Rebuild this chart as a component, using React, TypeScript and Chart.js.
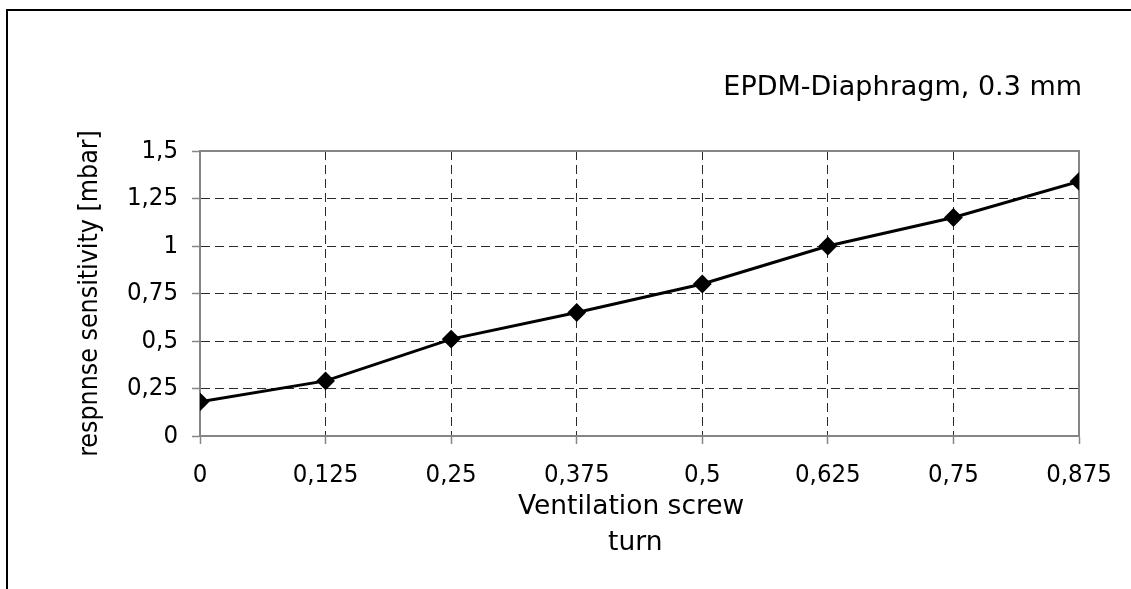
import React, { useEffect, useRef } from "react";
import { Chart, registerables } from "chart.js";

Chart.register(...registerables);

const turns = [0, 0.125, 0.25, 0.375, 0.5, 0.625, 0.75, 0.875];
const sensitivity = [0.18, 0.29, 0.51, 0.65, 0.8, 1.0, 1.15, 1.34];
const yMin = 0;
const yMax = 1.5;
const yStep = 0.25;
const xStep = 0.125;
const chartTitle = "EPDM-Diaphragm, 0.3 mm";
const xTitle = ["Ventilation screw\u00a0\u00a0", "turn\u00a0"];
const yTitle = "respnnse sensitivity [mbar]";

const W = 1131;
const H = 589;
const FONT = "'DejaVu Sans', sans-serif";
const FONT_C = "'DejaVu Sans Condensed', 'DejaVu Sans', sans-serif";
const fmt = (v: number) => String(Math.round(v * 1000) / 1000).replace(".", ",");

const decor = {
  id: "decor",
  beforeDatasetsDraw(chart: any) {
    const { ctx, chartArea } = chart;
    ctx.save();
    ctx.strokeStyle = "#858585";
    ctx.lineWidth = 2;
    ctx.strokeRect(chartArea.left, chartArea.top, chartArea.right - chartArea.left, chartArea.bottom - chartArea.top);
    ctx.restore();
  },
  afterDraw(chart: any) {
    const { ctx } = chart;
    ctx.save();
    ctx.strokeStyle = "#000";
    ctx.lineWidth = 2;
    ctx.strokeRect(7, 10, 3000, 3000);
    ctx.fillStyle = "#000";
    ctx.font = `27px ${FONT}`;
    ctx.textAlign = "right";
    ctx.textBaseline = "alphabetic";
    ctx.fillText(chartTitle, 1082, 95);
    ctx.restore();
  },
};

export default function App() {
  const ref = useRef<HTMLCanvasElement | null>(null);
  useEffect(() => {
    if (!ref.current) return;
    const chart = new Chart(ref.current, {
      type: "line",
      data: {
        datasets: [
          {
            data: turns.map((t, i) => ({ x: t, y: sensitivity[i] })),
            borderColor: "#000",
            borderWidth: 3,
            backgroundColor: "#000",
            pointStyle: "rectRot",
            pointRadius: 8,
            pointBorderWidth: 2,
            pointBackgroundColor: "#000",
            pointBorderColor: "#000",
            tension: 0,
          },
        ],
      },
      plugins: [decor],
      options: {
        animation: false,
        responsive: false,
        devicePixelRatio: 1,
        layout: { padding: { left: 0, right: 52, top: 151, bottom: 0 } },
        plugins: { legend: { display: false }, tooltip: { enabled: false }, title: { display: false } },
        scales: {
          x: {
            type: "linear",
            min: turns[0],
            max: turns[turns.length - 1],
            afterFit(scale: any) {
              scale.height = H - 436;
            },
            ticks: {
              stepSize: xStep,
              callback: (v: any) => fmt(Number(v)),
              color: "#000",
              font: { family: FONT_C, size: 25.5 },
              padding: 16,
              maxRotation: 0,
              autoSkip: false,
            },
            grid: {
              color: "#2a2a2a",
              lineWidth: 1,
              tickLength: 8,
              tickColor: "#858585",
              tickWidth: 1.5,
              tickBorderDash: [],
            },
            border: { color: "#858585", width: 2, dash: [9, 5] },
            title: {
              display: true,
              text: xTitle,
              color: "#000",
              font: { family: FONT, size: 26.5, lineHeight: "36px" },
              padding: { top: 0, bottom: 27.5 },
            },
          },
          y: {
            type: "linear",
            min: yMin,
            max: yMax,
            afterFit(scale: any) {
              scale.width = 200;
            },
            ticks: {
              stepSize: yStep,
              callback: (v: any) => fmt(Number(v)),
              color: "#000",
              font: { family: FONT_C, size: 25.5 },
              padding: 14,
            },
            grid: {
              color: "#2a2a2a",
              lineWidth: 1,
              tickLength: 8,
              tickColor: "#858585",
              tickWidth: 1.5,
              tickBorderDash: [],
            },
            border: { color: "#858585", width: 2, dash: [9, 5] },
            title: {
              display: true,
              text: yTitle,
              color: "#000",
              font: { family: FONT_C, size: 26.5, lineHeight: 1.2 },
              padding: { top: 74, bottom: 0 },
            },
          },
        },
      },
    } as any);
    return () => chart.destroy();
  }, []);
  return (
    <div style={{ position: "absolute", left: 0, top: 0, width: W, height: H, background: "#fff" }}>
      <canvas ref={ref} width={W} height={H} style={{ width: W, height: H, display: "block" }} />
    </div>
  );
}
